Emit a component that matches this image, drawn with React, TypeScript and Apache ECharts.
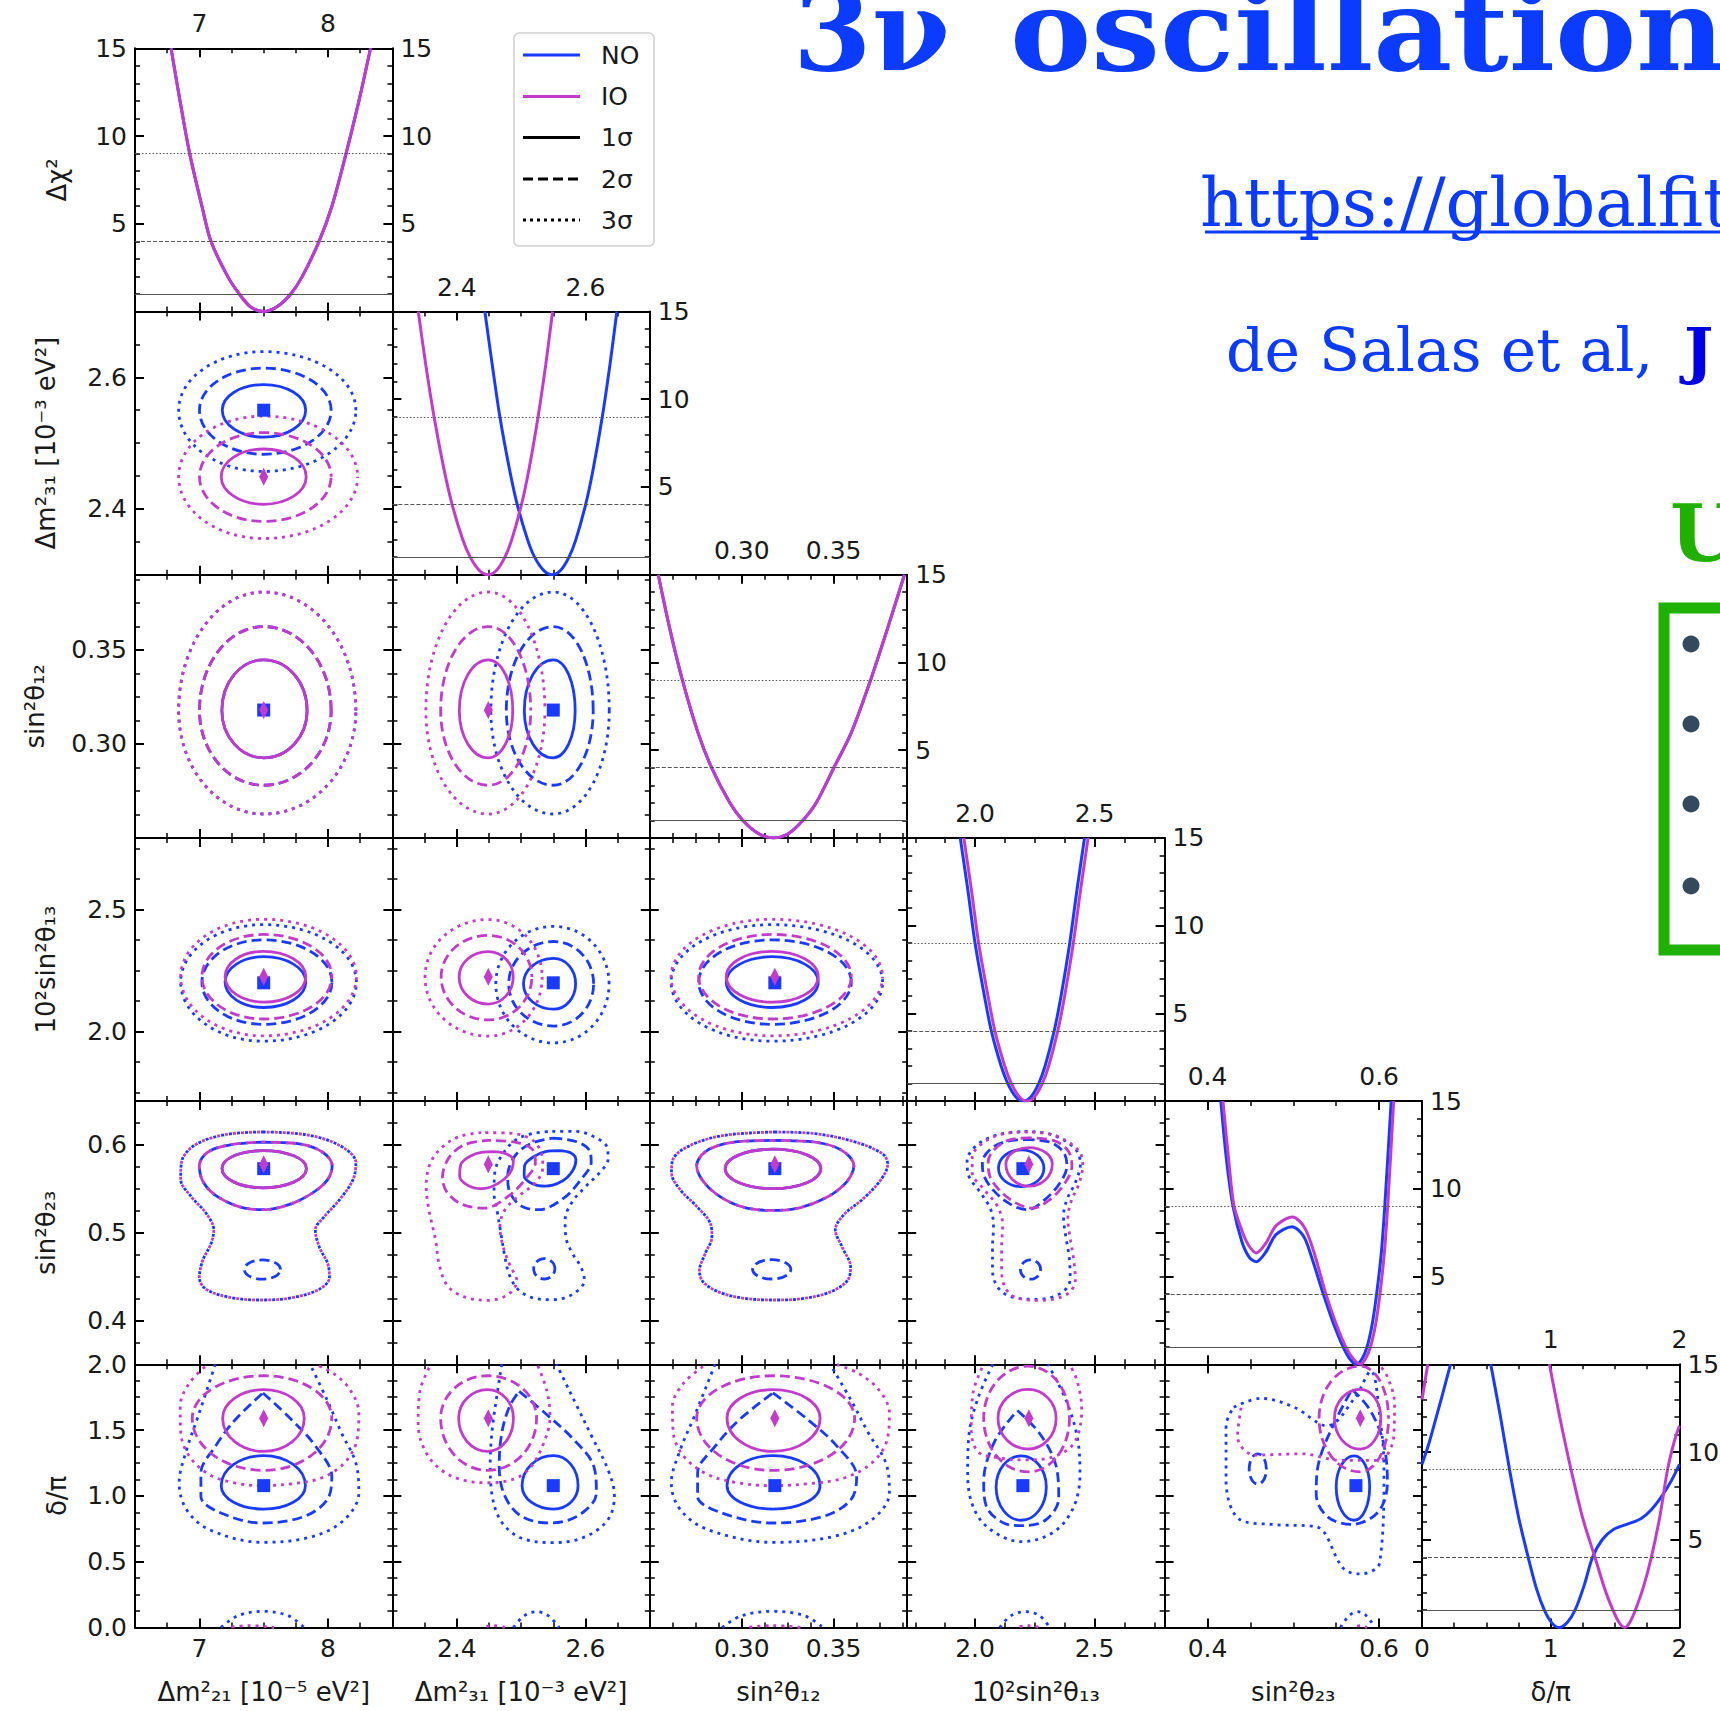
import React, { useEffect, useRef } from 'react';
import * as echarts from 'echarts';

// ---------------- axis ranges & ticks ----------------
const dm21Range = [6.5, 8.5];
const dm31Range = [2.3, 2.7];
const s12Range = [0.25, 0.39];
const s13Range = [1.716, 2.793];
const s23Range = [0.35, 0.65];
const deltaRange = [0, 2];
const chi2Range = [0, 15];

const dm21Ticks = [7, 8];
const dm31Ticks = [2.4, 2.6];
const s12Ticks = [0.3, 0.35];
const s13Ticks = [2.0, 2.5];
const s23TicksX = [0.4, 0.6];
const s23TicksY = [0.4, 0.5, 0.6];
const deltaTicksX = [0, 1, 2];
const deltaTicksTop = [1, 2];
const deltaTicksY = [0, 0.5, 1, 1.5, 2];
const chi2Ticks = [0, 5, 10, 15];
const chi2Labels = [5, 10, 15];

const dm21Minor = 0.25;
const dm31Minor = 0.05;
const s12Minor = 0.0125;
const s13MinorTicks = [1.75, 1.875, 2.0, 2.125, 2.25, 2.375, 2.5, 2.625, 2.75];
const s23MinorX = 0.05;
const s23MinorY = 0.025;
const deltaMinorX = 0.25;
const deltaMinorY = 0.125;
const chi2Minor = 1;

const sigmaLevels = [1, 4, 9];

// best fit points: dm21, dm31, s12, s13, s23, delta
const bestNO = [7.5, 2.55, 0.318, 2.2, 0.573, 1.078];
const bestIO = [7.5, 2.449, 0.318, 2.225, 0.578, 1.59];

// ---------------- 1D profiles [x, dchi2] ----------------
const prof0_NO = [[6.78, 15], [6.85, 12], [6.925, 9], [7.02, 6], [7.09, 4], [7.22, 2], [7.31, 1], [7.4, 0.25], [7.5, 0], [7.6, 0.25], [7.71, 1], [7.8, 2], [7.93, 4], [8.03, 6], [8.14, 9], [8.24, 12], [8.33, 15]];
const prof0_IO = [[6.78, 15], [6.85, 12], [6.925, 9], [7.02, 6], [7.09, 4], [7.22, 2], [7.31, 1], [7.4, 0.25], [7.5, 0], [7.6, 0.25], [7.71, 1], [7.8, 2], [7.93, 4], [8.03, 6], [8.14, 9], [8.24, 12], [8.33, 15]];
const prof1_NO = [[2.4437, 15], [2.455, 12], [2.467, 9], [2.482, 6], [2.494, 4], [2.51, 2], [2.521, 1], [2.535, 0.25], [2.5485, 0], [2.5615, 0.25], [2.5744, 1], [2.5851, 2], [2.6003, 4], [2.6119, 6], [2.6262, 9], [2.6382, 12], [2.6488, 15]];
const prof1_IO = [[2.3402, 15], [2.3517, 12], [2.3647, 9], [2.3802, 6], [2.3928, 4], [2.4093, 2], [2.4209, 1], [2.435, 0.25], [2.449, 0], [2.4619, 0.25], [2.4748, 1], [2.4855, 2], [2.5006, 4], [2.5122, 6], [2.5264, 9], [2.5384, 12], [2.5489, 15]];
const prof2_NO = [[0.2546, 15], [0.2607, 12], [0.2677, 9], [0.2762, 6], [0.2836, 4], [0.2935, 2], [0.3005, 1], [0.309, 0.25], [0.3173, 0], [0.3255, 0.25], [0.3333, 1], [0.3405, 2], [0.3501, 4], [0.3596, 6], [0.3701, 9], [0.3795, 12], [0.3885, 15]];
const prof2_IO = [[0.2546, 15], [0.2607, 12], [0.2677, 9], [0.2762, 6], [0.2836, 4], [0.2935, 2], [0.3005, 1], [0.309, 0.25], [0.3173, 0], [0.3255, 0.25], [0.3333, 1], [0.3405, 2], [0.3501, 4], [0.3596, 6], [0.3701, 9], [0.3795, 12], [0.3885, 15]];
const prof3_NO = [[1.938, 15], [1.97, 12], [2.0, 9], [2.039, 6], [2.068, 4], [2.109, 2], [2.137, 1], [2.17, 0.25], [2.201, 0], [2.234, 0.25], [2.266, 1], [2.293, 2], [2.331, 4], [2.36, 6], [2.396, 9], [2.426, 12], [2.458, 15]];
const prof3_IO = [[1.953, 15], [1.985, 12], [2.015, 9], [2.054, 6], [2.083, 4], [2.124, 2], [2.152, 1], [2.185, 0.25], [2.216, 0], [2.249, 0.25], [2.281, 1], [2.308, 2], [2.346, 4], [2.375, 6], [2.411, 9], [2.441, 12], [2.473, 15]];
const prof4_NO = [[0.4155, 15], [0.4225, 11.5], [0.4298, 9], [0.44, 7.0], [0.4487, 6.1], [0.4568, 5.85], [0.468, 6.4], [0.4798, 7.39], [0.4986, 7.84], [0.512, 7.3], [0.522, 6.0], [0.535, 4.0], [0.547, 2.3], [0.558, 1.0], [0.566, 0.3], [0.5735, 0], [0.58, 0.3], [0.586, 1.0], [0.592, 2.3], [0.5971, 4.0], [0.6025, 6.3], [0.6066, 9.0], [0.6141, 15]];
const prof4_IO = [[0.418, 15], [0.425, 11.5], [0.431, 9], [0.441, 7.5], [0.449, 6.7], [0.457, 6.35], [0.468, 6.9], [0.48, 7.9], [0.499, 8.4], [0.513, 7.8], [0.524, 6.4], [0.538, 4.0], [0.55, 2.3], [0.561, 1.0], [0.57, 0.3], [0.578, 0], [0.584, 0.3], [0.59, 1.0], [0.596, 2.3], [0.601, 4.0], [0.606, 6.3], [0.61, 9.0], [0.617, 15]];
const prof5_NO_a = [[0, 9.3], [0.05, 10.4], [0.1, 11.7], [0.16, 13.3], [0.2215, 15]];
const prof5_NO_b = [[0.534, 15], [0.61, 12], [0.68, 9], [0.75, 6.3], [0.825, 4], [0.89, 2.2], [0.95, 1], [1.01, 0.25], [1.067, 0], [1.13, 0.3], [1.19, 1], [1.26, 2.4], [1.325, 4], [1.4, 5.0], [1.49, 5.6], [1.6, 5.9], [1.7, 6.2], [1.78, 6.7], [1.865, 7.5], [1.94, 8.4], [2.0, 9.3]];
const prof5_IO_a = [[0, 13.0], [0.045, 15]];
const prof5_IO_b = [[0.99, 15], [1.07, 12], [1.158, 9], [1.25, 6.2], [1.344, 4], [1.42, 2.2], [1.483, 1], [1.53, 0.3], [1.574, 0], [1.615, 0.3], [1.658, 1], [1.72, 2.3], [1.782, 4], [1.85, 6.4], [1.908, 9], [1.96, 10.6], [2.0, 11.5]];

// ---------------- 2D contours ----------------
// ellipse-like contours: [cx, cy, halfWidthLeft, halfWidthRight, halfHeightDown, halfHeightUp]
// free-form contours: list of [x, y] points
const p10_NO_1 = [7.5, 2.55, 0.322, 0.326, 0.041, 0.039];
const p10_NO_2 = [7.5, 2.55, 0.499, 0.524, 0.067, 0.064];
const p10_NO_3 = [7.5, 2.55, 0.661, 0.716, 0.093, 0.089];
const p10_IO_1 = [7.5, 2.449, 0.33, 0.33, 0.042, 0.042];
const p10_IO_2 = [7.5, 2.449, 0.499, 0.524, 0.068, 0.067];
const p10_IO_3 = [7.5, 2.449, 0.661, 0.73, 0.094, 0.092];

const p20_NO_1 = [7.5, 0.3178, 0.325, 0.337, 0.0252, 0.0269];
const p20_NO_2 = [7.5, 0.3178, 0.499, 0.524, 0.0398, 0.0446];
const p20_NO_3 = [7.5, 0.3178, 0.661, 0.716, 0.0551, 0.063];
const p20_IO_1 = [7.5, 0.3178, 0.325, 0.337, 0.0252, 0.0269];
const p20_IO_2 = [7.5, 0.3178, 0.499, 0.524, 0.0398, 0.0446];
const p20_IO_3 = [7.5, 0.3178, 0.661, 0.716, 0.0551, 0.063];

const p21_NO_1 = [2.55, 0.3178, 0.045, 0.034, 0.0252, 0.0269];
const p21_NO_2 = [2.55, 0.3178, 0.073, 0.062, 0.0398, 0.0446];
const p21_NO_3 = [2.55, 0.3178, 0.097, 0.087, 0.0551, 0.063];
const p21_IO_1 = [2.449, 0.3178, 0.045, 0.038, 0.0252, 0.0269];
const p21_IO_2 = [2.449, 0.3178, 0.074, 0.066, 0.0398, 0.0446];
const p21_IO_3 = [2.449, 0.3178, 0.097, 0.088, 0.0551, 0.063];

const p30_NO_1 = [7.5, 2.203, 0.3, 0.327, 0.104, 0.104];
const p30_NO_2 = [7.5, 2.203, 0.48, 0.53, 0.173, 0.173];
const p30_NO_3 = [7.5, 2.203, 0.645, 0.72, 0.242, 0.235];
const p30_IO_1 = [7.5, 2.225, 0.3, 0.327, 0.104, 0.104];
const p30_IO_2 = [7.5, 2.225, 0.48, 0.53, 0.173, 0.173];
const p30_IO_3 = [7.5, 2.225, 0.645, 0.72, 0.242, 0.235];

const p31_NO_1 = [2.5507, 2.196, 0.047, 0.034, 0.104, 0.104];
const p31_NO_2 = [2.5507, 2.196, 0.07, 0.062, 0.173, 0.173];
const p31_NO_3 = [2.5507, 2.196, 0.09, 0.086, 0.242, 0.235];
const p31_IO_1 = [2.4487, 2.224, 0.045, 0.039, 0.111, 0.104];
const p31_IO_2 = [2.4487, 2.224, 0.073, 0.068, 0.176, 0.17];
const p31_IO_3 = [2.4487, 2.224, 0.098, 0.084, 0.242, 0.235];

const p32_NO_1 = [0.3166, 2.203, 0.025, 0.025, 0.104, 0.104];
const p32_NO_2 = [0.3166, 2.203, 0.04, 0.043, 0.173, 0.173];
const p32_NO_3 = [0.3166, 2.203, 0.055, 0.06, 0.242, 0.235];
const p32_IO_1 = [0.3166, 2.225, 0.025, 0.025, 0.104, 0.104];
const p32_IO_2 = [0.3166, 2.225, 0.04, 0.043, 0.173, 0.173];
const p32_IO_3 = [0.3166, 2.225, 0.055, 0.06, 0.242, 0.235];

const p40_1 = [7.494, 0.5732, 0.318, 0.338, 0.022, 0.0204];
const p40_2 = [[7.4935, 0.6032], [7.7745, 0.6013], [7.958, 0.5917], [8.032, 0.5763], [7.998, 0.5608], [7.88, 0.5454], [7.696, 0.532], [7.4935, 0.5262], [7.302, 0.53], [7.118, 0.5435], [7.026, 0.5589], [7.0, 0.5763], [7.065, 0.5917], [7.249, 0.6005], [7.4935, 0.6032]];
const p40_NO_2b = [7.49, 0.458, 0.14, 0.14, 0.011, 0.011];
const p40_3 = [[7.4935, 0.6148], [7.827, 0.6117], [8.09, 0.5994], [8.216, 0.5801], [8.195, 0.5608], [8.09, 0.5377], [7.972, 0.5185], [7.901, 0.5031], [7.932, 0.4838], [7.998, 0.4646], [8.011, 0.449], [7.932, 0.4356], [7.722, 0.426], [7.4935, 0.4233], [7.249, 0.426], [7.052, 0.4356], [7.0, 0.449], [7.026, 0.4684], [7.091, 0.4876], [7.112, 0.5031], [7.052, 0.5223], [6.934, 0.5416], [6.855, 0.5608], [6.861, 0.5801], [6.96, 0.5994], [7.197, 0.6117], [7.4935, 0.6148]];

const p41_IO_1 = [[2.4565, 0.5924], [2.4775, 0.5897], [2.488, 0.582], [2.4828, 0.5685], [2.4644, 0.5562], [2.4382, 0.5501], [2.4172, 0.5539], [2.4045, 0.5647], [2.4066, 0.5782], [2.4224, 0.5878], [2.4382, 0.5916], [2.4565, 0.5924]];
const p41_NO_1 = [[2.559, 0.5936], [2.5774, 0.5909], [2.5852, 0.5832], [2.58, 0.5705], [2.5642, 0.5589], [2.5379, 0.5531], [2.5169, 0.5562], [2.5048, 0.5647], [2.5054, 0.5763], [2.5196, 0.5867], [2.5379, 0.5924], [2.559, 0.5936]];
const p41_IO_2 = [[2.4486, 0.6052], [2.4907, 0.6032], [2.5169, 0.5955], [2.5222, 0.5801], [2.5064, 0.5608], [2.4801, 0.5416], [2.4434, 0.5281], [2.4092, 0.532], [2.3856, 0.5454], [2.3777, 0.5628], [2.3883, 0.5859], [2.4119, 0.6002], [2.4486, 0.6052]];
const p41_NO_2 = [[2.5485, 0.6079], [2.5852, 0.604], [2.6063, 0.5936], [2.6089, 0.5801], [2.5931, 0.5608], [2.5668, 0.5397], [2.5275, 0.5262], [2.5012, 0.53], [2.4828, 0.5454], [2.4792, 0.5647], [2.4907, 0.5878], [2.5143, 0.6013], [2.5485, 0.6079]];
const p41_NO_2b = [2.536, 0.4588, 0.0165, 0.0165, 0.0116, 0.0116];
const p41_IO_3 = [[2.4382, 0.614], [2.4801, 0.6136], [2.5143, 0.6071], [2.5301, 0.5936], [2.5337, 0.5743], [2.5222, 0.557], [2.4959, 0.5416], [2.4749, 0.5262], [2.4671, 0.5069], [2.4723, 0.4838], [2.4828, 0.4626], [2.4933, 0.4452], [2.4801, 0.4298], [2.4486, 0.4229], [2.4119, 0.4268], [2.3856, 0.4395], [2.3725, 0.4646], [2.3672, 0.4915], [2.3567, 0.5262], [2.3525, 0.5531], [2.3594, 0.5801], [2.3803, 0.5994], [2.4066, 0.6102], [2.4382, 0.614]];
const p41_NO_3 = [[2.5485, 0.6156], [2.5852, 0.6156], [2.6141, 0.609], [2.6336, 0.5975], [2.6352, 0.584], [2.6246, 0.5705], [2.601, 0.5531], [2.58, 0.5358], [2.5684, 0.5146], [2.5695, 0.4953], [2.58, 0.4761], [2.5931, 0.4607], [2.5984, 0.446], [2.58, 0.4298], [2.5485, 0.4237], [2.5169, 0.426], [2.4949, 0.4356], [2.4812, 0.453], [2.4739, 0.4761], [2.4686, 0.4992], [2.4633, 0.5223], [2.458, 0.5454], [2.4591, 0.5685], [2.4697, 0.5878], [2.4907, 0.6052], [2.5169, 0.6129], [2.5485, 0.6156]];

const p42_1 = [0.317, 0.5732, 0.026, 0.026, 0.023, 0.022];
const p42_2 = [[0.3169, 0.6052], [0.3399, 0.6032], [0.3546, 0.5936], [0.361, 0.5763], [0.3574, 0.5589], [0.3473, 0.5416], [0.3307, 0.5281], [0.316, 0.5254], [0.2995, 0.53], [0.2866, 0.5435], [0.2783, 0.5608], [0.2755, 0.5763], [0.2811, 0.5936], [0.2958, 0.6032], [0.3169, 0.6052]];
const p42_NO_2b = [0.3163, 0.4582, 0.0104, 0.0104, 0.011, 0.011];
const p42_3 = [[0.3178, 0.6148], [0.3399, 0.6129], [0.362, 0.6032], [0.3767, 0.5897], [0.3794, 0.5782], [0.3758, 0.5608], [0.3666, 0.5397], [0.3555, 0.5204], [0.3509, 0.5031], [0.3546, 0.4838], [0.3592, 0.4607], [0.3574, 0.4452], [0.3473, 0.4317], [0.3326, 0.4248], [0.3178, 0.4233], [0.3013, 0.4252], [0.2884, 0.4317], [0.2792, 0.4434], [0.277, 0.4568], [0.2801, 0.4761], [0.2838, 0.4953], [0.2829, 0.5108], [0.2755, 0.53], [0.2664, 0.5493], [0.2618, 0.5685], [0.2627, 0.584], [0.2719, 0.5994], [0.2903, 0.6109], [0.3178, 0.6148]];

const p43_NO_1 = [2.193, 0.5735, 0.095, 0.095, 0.021, 0.021];
const p43_IO_1 = [2.226, 0.578, 0.097, 0.097, 0.025, 0.019];
const p43_NO_2 = [[2.2072, 0.6063], [2.3133, 0.6032], [2.37, 0.5917], [2.3842, 0.5763], [2.3557, 0.557], [2.2921, 0.5377], [2.2214, 0.5262], [2.1506, 0.532], [2.0799, 0.5474], [2.0375, 0.5647], [2.0304, 0.5801], [2.0658, 0.5955], [2.1294, 0.604], [2.2072, 0.6063]];
const p43_IO_2 = [[2.225, 0.608], [2.33, 0.605], [2.39, 0.593], [2.405, 0.576], [2.375, 0.556], [2.31, 0.537], [2.24, 0.528], [2.17, 0.534], [2.1, 0.549], [2.06, 0.566], [2.055, 0.581], [2.085, 0.596], [2.148, 0.606], [2.225, 0.608]];
const p43_NO_2b = [2.232, 0.458, 0.042, 0.042, 0.011, 0.011];
const p43_NO_3 = [[2.2072, 0.6156], [2.3202, 0.6117], [2.4193, 0.5955], [2.4407, 0.5782], [2.4193, 0.557], [2.3842, 0.5377], [2.37, 0.5185], [2.3796, 0.4953], [2.3938, 0.4722], [2.398, 0.4472], [2.3628, 0.4317], [2.2637, 0.4241], [2.1647, 0.426], [2.1009, 0.4356], [2.0729, 0.4568], [2.0729, 0.4838], [2.0771, 0.5069], [2.0658, 0.5262], [2.0233, 0.5454], [1.9737, 0.5647], [1.9666, 0.582], [2.0093, 0.6002], [2.0942, 0.6117], [2.2072, 0.6156]];
const p43_IO_3 = [[2.2214, 0.6148], [2.3344, 0.6109], [2.4336, 0.5936], [2.4503, 0.5763], [2.4336, 0.5551], [2.4022, 0.5358], [2.3884, 0.5165], [2.398, 0.4934], [2.4122, 0.4703], [2.4193, 0.446], [2.3842, 0.4298], [2.2779, 0.4229], [2.1788, 0.4252], [2.1294, 0.4356], [2.111, 0.4568], [2.111, 0.4838], [2.1152, 0.5088], [2.0942, 0.53], [2.0373, 0.5493], [1.988, 0.5685], [1.988, 0.5859], [2.0373, 0.6032], [2.1223, 0.6129], [2.2214, 0.6148]];

const p50_NO_1 = [7.5, 1.078, 0.33, 0.324, 0.178, 0.228];
const p50_IO_1 = [7.5, 1.59, 0.319, 0.315, 0.252, 0.217];
const p50_NO_2 = [[7.494, 1.782], [7.717, 1.579], [7.904, 1.376], [8.029, 1.148], [7.993, 0.971], [7.815, 0.844], [7.494, 0.794], [7.168, 0.87], [7.012, 0.996], [7.012, 1.174], [7.124, 1.376], [7.279, 1.579], [7.494, 1.782]];
const p50_IO_2 = [7.5, 1.59, 0.555, 0.529, 0.396, 0.323];
const p50_NO_3 = [[7.124, 2.0], [6.99, 1.604], [6.901, 1.351], [6.843, 1.098], [6.901, 0.895], [7.079, 0.743], [7.494, 0.647], [7.882, 0.692], [8.127, 0.819], [8.239, 1.022], [8.216, 1.25], [8.105, 1.478], [7.993, 1.728], [7.86, 2.0]];
const p50_NO_3b = [[7.168, 0.0], [7.3, 0.09], [7.494, 0.123], [7.69, 0.09], [7.815, 0.0]];
const p50_IO_3 = [[7.066, 2.0], [6.923, 1.858], [6.851, 1.68], [6.856, 1.478], [6.923, 1.3], [7.079, 1.161], [7.279, 1.098], [7.494, 1.078], [7.725, 1.093], [7.948, 1.136], [8.127, 1.25], [8.225, 1.427], [8.239, 1.63], [8.171, 1.807], [8.038, 1.934], [7.895, 2.0]];
const p50_IO_3b = [[7.22, 0], [7.38, 0.015], [7.58, 0]];

const p51_NO_1 = [2.5505, 1.078, 0.049, 0.038, 0.178, 0.228];
const p51_IO_1 = [2.448, 1.59, 0.045, 0.04, 0.252, 0.217];
const p51_NO_2 = [[2.497, 1.794], [2.537, 1.63], [2.582, 1.427], [2.613, 1.224], [2.617, 1.022], [2.591, 0.857], [2.546, 0.794], [2.501, 0.844], [2.475, 0.996], [2.466, 1.224], [2.47, 1.478], [2.482, 1.68], [2.497, 1.794]];
const p51_IO_2 = [2.448, 1.59, 0.073, 0.076, 0.396, 0.323];
const p51_NO_3 = [[2.47, 2.0], [2.462, 1.75], [2.455, 1.5], [2.452, 1.25], [2.455, 1.0], [2.47, 0.8], [2.5, 0.68], [2.55, 0.645], [2.6, 0.69], [2.635, 0.82], [2.645, 1.0], [2.635, 1.2], [2.61, 1.45], [2.585, 1.7], [2.565, 1.9], [2.555, 2.0]];
const p51_NO_3b = [[2.488, 0], [2.505, 0.09], [2.524, 0.12], [2.542, 0.09], [2.559, 0]];
const p51_IO_3 = [[2.36, 2.0], [2.343, 1.8], [2.34, 1.55], [2.35, 1.35], [2.375, 1.2], [2.41, 1.12], [2.45, 1.1], [2.49, 1.13], [2.515, 1.22], [2.535, 1.4], [2.545, 1.6], [2.54, 1.8], [2.525, 2.0]];
const p51_IO_3b = [[2.44, 0], [2.457, 0.015], [2.475, 0]];

const p52_NO_1 = [0.317, 1.078, 0.025, 0.0256, 0.178, 0.228];
const p52_IO_1 = [0.317, 1.59, 0.025, 0.0256, 0.252, 0.217];
const p52_NO_2 = [[0.317, 1.782], [0.336, 1.579], [0.3519, 1.376], [0.3625, 1.148], [0.3594, 0.971], [0.3443, 0.844], [0.317, 0.794], [0.2893, 0.87], [0.276, 0.996], [0.276, 1.174], [0.2855, 1.376], [0.2987, 1.579], [0.317, 1.782]];
const p52_IO_2 = [0.317, 1.59, 0.0415, 0.0444, 0.396, 0.323];
const p52_NO_3 = [[0.2855, 2.0], [0.2742, 1.604], [0.2666, 1.351], [0.2617, 1.098], [0.2666, 0.895], [0.2817, 0.743], [0.317, 0.647], [0.35, 0.692], [0.3708, 0.819], [0.3803, 1.022], [0.3784, 1.25], [0.3689, 1.478], [0.3594, 1.728], [0.3481, 2.0]];
const p52_NO_3b = [[0.2893, 0], [0.3, 0.09], [0.317, 0.123], [0.334, 0.09], [0.3443, 0]];
const p52_IO_3 = [[0.2806, 2.0], [0.2685, 1.858], [0.2623, 1.68], [0.2628, 1.478], [0.2685, 1.3], [0.2817, 1.161], [0.2987, 1.098], [0.317, 1.078], [0.3366, 1.093], [0.3556, 1.136], [0.3708, 1.25], [0.3791, 1.427], [0.3803, 1.63], [0.3745, 1.807], [0.3632, 1.934], [0.3511, 2.0]];
const p52_IO_3b = [[0.302, 0], [0.317, 0.015], [0.332, 0]];

const p53_NO_1 = [2.193, 1.068, 0.105, 0.105, 0.253, 0.236];
const p53_IO_1 = [2.222, 1.59, 0.126, 0.117, 0.234, 0.219];
const p53_NO_2 = [[2.177, 1.649], [2.271, 1.472], [2.339, 1.227], [2.35, 0.983], [2.294, 0.815], [2.193, 0.774], [2.114, 0.799], [2.047, 0.922], [2.036, 1.105], [2.081, 1.41], [2.177, 1.649]];
const p53_IO_2 = [2.222, 1.59, 0.186, 0.173, 0.408, 0.396];
const p53_NO_3 = [[2.074, 2.0], [2.013, 1.747], [1.975, 1.472], [1.969, 1.166], [1.991, 0.922], [2.058, 0.753], [2.193, 0.652], [2.327, 0.723], [2.41, 0.906], [2.439, 1.166], [2.428, 1.441], [2.383, 1.717], [2.305, 2.0]];
const p53_NO_3b = [[2.103, 0], [2.15, 0.09], [2.21, 0.12], [2.27, 0.09], [2.312, 0]];
const p53_IO_3 = [[2.036, 2.0], [1.991, 1.777], [1.984, 1.502], [2.013, 1.334], [2.103, 1.288], [2.215, 1.273], [2.339, 1.304], [2.417, 1.41], [2.446, 1.655], [2.428, 1.869], [2.395, 2.0]];
const p53_IO_3b = [[2.17, 0], [2.22, 0.015], [2.27, 0]];

const p54_NO_1 = [0.571, 1.07, 0.021, 0.018, 0.255, 0.234];
const p54_IO_1 = [0.578, 1.59, 0.03, 0.024, 0.234, 0.22];
const p54_NO_2 = [[0.5685, 1.809], [0.5892, 1.655], [0.6048, 1.41], [0.6097, 1.105], [0.5985, 0.875], [0.5672, 0.783], [0.5392, 0.845], [0.5267, 1.013], [0.5298, 1.258], [0.5485, 1.564], [0.5685, 1.809]];
const p54_NO_2b = [0.4586, 1.205, 0.01, 0.01, 0.115, 0.115];
const p54_IO_2 = [0.578, 1.59, 0.048, 0.033, 0.408, 0.396];
const p54_NO_3 = [[0.4305, 1.674], [0.4626, 1.741], [0.5009, 1.674], [0.5393, 1.533], [0.5712, 1.741], [0.5904, 1.949], [0.6006, 1.616], [0.6057, 1.199], [0.6006, 0.491], [0.5776, 0.407], [0.5584, 0.449], [0.5265, 0.766], [0.4753, 0.783], [0.4369, 0.824], [0.4216, 1.116], [0.4216, 1.533], [0.4305, 1.674]];
const p54_NO_3b = [[0.555, 0], [0.565, 0.09], [0.575, 0.12], [0.585, 0.09], [0.595, 0]];
const p54_IO_3 = [[0.44, 1.7], [0.435, 1.45], [0.455, 1.31], [0.51, 1.32], [0.555, 1.27], [0.6, 1.27], [0.617, 1.45], [0.618, 1.7], [0.61, 1.9], [0.6, 2.0]];
const p54_IO_3b = [[0.57, 0], [0.578, 0.015], [0.586, 0]];

// panel -> contour lists per sigma level (interleave: IO dash pattern shifted so both orderings show)
const panelContours = [
  { r: 1, c: 0, interleave: true, NO: [[p10_NO_1], [p10_NO_2], [p10_NO_3]], IO: [[p10_IO_1], [p10_IO_2], [p10_IO_3]] },
  { r: 2, c: 0, interleave: false, NO: [[p20_NO_1], [p20_NO_2], [p20_NO_3]], IO: [[p20_IO_1], [p20_IO_2], [p20_IO_3]] },
  { r: 2, c: 1, interleave: true, NO: [[p21_NO_1], [p21_NO_2], [p21_NO_3]], IO: [[p21_IO_1], [p21_IO_2], [p21_IO_3]] },
  { r: 3, c: 0, interleave: true, NO: [[p30_NO_1], [p30_NO_2], [p30_NO_3]], IO: [[p30_IO_1], [p30_IO_2], [p30_IO_3]] },
  { r: 3, c: 1, interleave: true, NO: [[p31_NO_1], [p31_NO_2], [p31_NO_3]], IO: [[p31_IO_1], [p31_IO_2], [p31_IO_3]] },
  { r: 3, c: 2, interleave: true, NO: [[p32_NO_1], [p32_NO_2], [p32_NO_3]], IO: [[p32_IO_1], [p32_IO_2], [p32_IO_3]] },
  { r: 4, c: 0, interleave: true, NO: [[p40_1], [p40_2, p40_NO_2b], [p40_3]], IO: [[p40_1], [p40_2], [p40_3]] },
  { r: 4, c: 1, interleave: true, NO: [[p41_NO_1], [p41_NO_2, p41_NO_2b], [p41_NO_3]], IO: [[p41_IO_1], [p41_IO_2], [p41_IO_3]] },
  { r: 4, c: 2, interleave: true, NO: [[p42_1], [p42_2, p42_NO_2b], [p42_3]], IO: [[p42_1], [p42_2], [p42_3]] },
  { r: 4, c: 3, interleave: true, NO: [[p43_NO_1], [p43_NO_2, p43_NO_2b], [p43_NO_3]], IO: [[p43_IO_1], [p43_IO_2], [p43_IO_3]] },
  { r: 5, c: 0, interleave: true, NO: [[p50_NO_1], [p50_NO_2], [p50_NO_3, p50_NO_3b]], IO: [[p50_IO_1], [p50_IO_2], [p50_IO_3, p50_IO_3b]] },
  { r: 5, c: 1, interleave: true, NO: [[p51_NO_1], [p51_NO_2], [p51_NO_3, p51_NO_3b]], IO: [[p51_IO_1], [p51_IO_2], [p51_IO_3, p51_IO_3b]] },
  { r: 5, c: 2, interleave: true, NO: [[p52_NO_1], [p52_NO_2], [p52_NO_3, p52_NO_3b]], IO: [[p52_IO_1], [p52_IO_2], [p52_IO_3, p52_IO_3b]] },
  { r: 5, c: 3, interleave: true, NO: [[p53_NO_1], [p53_NO_2], [p53_NO_3, p53_NO_3b]], IO: [[p53_IO_1], [p53_IO_2], [p53_IO_3, p53_IO_3b]] },
  { r: 5, c: 4, interleave: true, NO: [[p54_NO_1], [p54_NO_2, p54_NO_2b], [p54_NO_3, p54_NO_3b]], IO: [[p54_IO_1], [p54_IO_2], [p54_IO_3, p54_IO_3b]] },
];

const profiles = [
  { NO: [prof0_NO], IO: [prof0_IO] },
  { NO: [prof1_NO], IO: [prof1_IO] },
  { NO: [prof2_NO], IO: [prof2_IO] },
  { NO: [prof3_NO], IO: [prof3_IO] },
  { NO: [prof4_NO], IO: [prof4_IO] },
  { NO: [prof5_NO_a, prof5_NO_b], IO: [prof5_IO_a, prof5_IO_b] },
];

// ---------------- styling / layout ----------------
const BLUE = '#1a3aff';
const MAG = '#c23ccc';
const LW = 2.8;
const DASH = [10, 5];
const DOT = [3, 5];
const LEFT0 = 135;
const TOP0 = 48.3;
const PW = 257.4;
const PH = 263.2;
const FONT = 'DejaVu Sans';
const TXT = '#1a1a1a';
const TICK_FONT = 25;
const NAME_FONT = 26;

const VARS: any[] = [
  { range: dm21Range, ticksX: dm21Ticks, topX: dm21Ticks, minorX: dm21Minor, decX: 0 },
  { range: dm31Range, ticksX: dm31Ticks, topX: dm31Ticks, minorX: dm31Minor, decX: 1, ticksY: dm31Ticks, minorY: dm31Minor, decY: 1 },
  { range: s12Range, ticksX: s12Ticks, topX: s12Ticks, minorX: s12Minor, decX: 2, ticksY: s12Ticks, minorY: s12Minor, decY: 2 },
  { range: s13Range, ticksX: s13Ticks, topX: s13Ticks, minorX: s13MinorTicks, decX: 1, ticksY: s13Ticks, minorY: s13MinorTicks, decY: 1 },
  { range: s23Range, ticksX: s23TicksX, topX: s23TicksX, minorX: s23MinorX, decX: 1, ticksY: s23TicksY, minorY: s23MinorY, decY: 1 },
  { range: deltaRange, ticksX: deltaTicksX, topX: deltaTicksTop, minorX: deltaMinorX, decX: 0, ticksY: deltaTicksY, minorY: deltaMinorY, decY: 1 },
];
const CHI = { range: chi2Range, ticksY: chi2Ticks, labelsY: chi2Labels, minorY: chi2Minor, decY: 0 };

function majorAxis(g: number, pos: string, range: number[], ticks: number[], labels: number[] | null, dec: number) {
  return {
    type: 'value', gridIndex: g, position: pos, min: range[0], max: range[1],
    axisLine: { show: true, onZero: false, lineStyle: { color: '#000', width: 2 } },
    axisTick: { show: true, inside: true, length: 9, customValues: ticks, lineStyle: { color: '#000', width: 2 } },
    axisLabel: {
      show: !!labels, customValues: labels || ticks, formatter: (v: any) => Number(v).toFixed(dec),
      margin: pos === 'top' ? 12 : 8, fontSize: TICK_FONT, fontFamily: FONT, color: TXT, showMinLabel: true, showMaxLabel: true,
    },
    splitLine: { show: false }, minorTick: { show: false }, minorSplitLine: { show: false },
  };
}
function minorAxis(g: number, pos: string, range: number[], minor: any) {
  const isList = Array.isArray(minor);
  const ax: any = {
    type: 'value', gridIndex: g, position: pos, min: range[0], max: range[1],
    axisLine: { show: false, onZero: false },
    axisTick: { show: true, inside: true, length: 5, lineStyle: { color: '#000', width: 1.5 } },
    axisLabel: { show: false }, splitLine: { show: false },
  };
  if (isList) ax.axisTick.customValues = minor; else ax.interval = minor;
  return ax;
}

function ellipseSeries(xi: number, yi: number, ell: number[], color: string, dash: any, offset: number, z: number) {
  return {
    type: 'custom', coordinateSystem: 'cartesian2d', xAxisIndex: xi, yAxisIndex: yi, silent: true, z,
    data: [ell], encode: { x: 0, y: 1 },
    renderItem: (params: any, api: any) => {
      const cx = api.value(0), cy = api.value(1);
      const C = api.coord([cx, cy]);
      const xL = api.coord([cx - api.value(2), cy])[0];
      const xR = api.coord([cx + api.value(3), cy])[0];
      const yB = api.coord([cx, cy - api.value(4)])[1];
      const yT = api.coord([cx, cy + api.value(5)])[1];
      const k = 0.5523;
      const x0 = C[0], y0 = C[1];
      const d = [
        `M${xR} ${y0}`,
        `C${xR} ${y0 - k * (y0 - yT)} ${x0 + k * (xR - x0)} ${yT} ${x0} ${yT}`,
        `C${x0 - k * (x0 - xL)} ${yT} ${xL} ${y0 - k * (y0 - yT)} ${xL} ${y0}`,
        `C${xL} ${y0 + k * (yB - y0)} ${x0 - k * (x0 - xL)} ${yB} ${x0} ${yB}`,
        `C${x0 + k * (xR - x0)} ${yB} ${xR} ${y0 + k * (yB - y0)} ${xR} ${y0}`,
        'Z',
      ].join(' ');
      return {
        type: 'path', shape: { pathData: d },
        style: { fill: 'none', stroke: color, lineWidth: LW, lineDash: dash, lineDashOffset: offset },
      };
    },
  };
}
function polySeries(xi: number, yi: number, pts: number[][], color: string, dash: any, offset: number, z: number, width: number) {
  return {
    type: 'line', xAxisIndex: xi, yAxisIndex: yi, data: pts, smooth: 0.35, symbol: 'none', showSymbol: false,
    silent: true, clip: true, z,
    lineStyle: { color, width, type: dash || 'solid', dashOffset: offset },
  };
}

function buildOption() {
  const grids: any[] = [];
  const xAxes: any[] = [];
  const yAxes: any[] = [];
  const series: any[] = [];
  const axisIdx: Record<string, number[]> = {};

  for (let r = 0; r < 6; r++) {
    for (let c = 0; c <= r; c++) {
      const g = grids.length;
      grids.push({ left: LEFT0 + c * PW, top: TOP0 + r * PH, width: PW, height: PH, containLabel: false, outerBoundsMode: 'none' });
      const xv = VARS[c];
      const xi = xAxes.length;
      xAxes.push(majorAxis(g, 'bottom', xv.range, xv.ticksX, r === 5 ? xv.ticksX : null, xv.decX));
      xAxes.push(minorAxis(g, 'bottom', xv.range, xv.minorX));
      xAxes.push(majorAxis(g, 'top', xv.range, xv.ticksX, r === c ? xv.topX : null, xv.decX));
      xAxes.push(minorAxis(g, 'top', xv.range, xv.minorX));
      const yv = r === c ? CHI : VARS[r];
      const yi = yAxes.length;
      const yLabels = r === c ? (yv as any).labelsY : yv.ticksY;
      yAxes.push(majorAxis(g, 'left', yv.range, yv.ticksY, c === 0 ? yLabels : null, yv.decY));
      yAxes.push(minorAxis(g, 'left', yv.range, yv.minorY));
      yAxes.push(majorAxis(g, 'right', yv.range, yv.ticksY, r === c ? yLabels : null, yv.decY));
      yAxes.push(minorAxis(g, 'right', yv.range, yv.minorY));
      axisIdx[r + ',' + c] = [xi, yi];
    }
  }

  // diagonal profiles
  profiles.forEach((p, i) => {
    const [xi, yi] = axisIdx[i + ',' + i];
    p.NO.forEach((seg, j) => {
      const s: any = polySeries(xi, yi, seg, BLUE, null, 0, 3, 3);
      s.smooth = 0.3;
      if (j === 0) {
        s.markLine = {
          silent: true, symbol: 'none', label: { show: false }, animation: false,
          lineStyle: { color: '#555', width: 1 },
          data: sigmaLevels.map((v, k) => ({ yAxis: v, lineStyle: { color: '#555', width: 1, type: k === 0 ? 'solid' : k === 1 ? [4, 2] : [1.5, 2] } })),
        };
      }
      series.push(s);
    });
    p.IO.forEach((seg) => {
      const s: any = polySeries(xi, yi, seg, MAG, null, 0, 4, 3);
      s.smooth = 0.3;
      series.push(s);
    });
  });

  // 2D contours
  const styles = [null, DASH, DOT];
  const offsIO = [0, 7, 4];
  panelContours.forEach((pc) => {
    const [xi, yi] = axisIdx[pc.r + ',' + pc.c];
    (['NO', 'IO'] as const).forEach((ord) => {
      const color = ord === 'NO' ? BLUE : MAG;
      const z = ord === 'NO' ? 3 : 4;
      (pc as any)[ord].forEach((shapes: any[], lvl: number) => {
        shapes.forEach((shape: any) => {
          const off = ord === 'IO' && pc.interleave ? offsIO[lvl] : 0;
          if (typeof shape[0] === 'number') series.push(ellipseSeries(xi, yi, shape, color, styles[lvl], off, z));
          else series.push(polySeries(xi, yi, shape, color, styles[lvl], off, z, LW));
        });
      });
    });
    series.push({ type: 'scatter', xAxisIndex: xi, yAxisIndex: yi, silent: true, z: 5, data: [[bestNO[pc.c], bestNO[pc.r]]], symbol: 'rect', symbolSize: 13, itemStyle: { color: BLUE, opacity: 1 } });
    series.push({ type: 'scatter', xAxisIndex: xi, yAxisIndex: yi, silent: true, z: 6, data: [[bestIO[pc.c], bestIO[pc.r]]], symbol: 'diamond', symbolSize: [9, 18], itemStyle: { color: MAG, opacity: 1 } });
  });

  // ---------------- graphics: axis names, legend, slide text ----------------
  const nameStyle = (text: string) => ({ text, fontSize: NAME_FONT, fontFamily: FONT, fill: TXT, textAlign: 'center', textVerticalAlign: 'middle' });
  const bottomNames = ['Δm²₂₁ [10⁻⁵ eV²]', 'Δm²₃₁ [10⁻³ eV²]', 'sin²θ₁₂', '10²sin²θ₁₃', 'sin²θ₂₃', 'δ/π'];
  const leftNames = ['Δχ²', 'Δm²₃₁ [10⁻³ eV²]', 'sin²θ₁₂', '10²sin²θ₁₃', 'sin²θ₂₃', 'δ/π'];
  const leftX = [57, 46, 35, 46, 46, 57];
  const elements: any[] = [];
  bottomNames.forEach((t, i) => elements.push({ type: 'text', x: LEFT0 + (i + 0.5) * PW, y: 1692, style: nameStyle(t) }));
  leftNames.forEach((t, i) => elements.push({ type: 'text', x: leftX[i], y: TOP0 + (i + 0.5) * PH, rotation: Math.PI / 2, style: nameStyle(t) }));

  // legend
  elements.push({ type: 'rect', shape: { x: 514, y: 33, width: 140, height: 213, r: 5 }, style: { fill: 'rgba(255,255,255,0.9)', stroke: '#cfcfcf', lineWidth: 1.5 }, z: 50 });
  const legendRows = [
    { t: 'NO', color: BLUE, dash: null, y: 55 },
    { t: 'IO', color: MAG, dash: null, y: 96.5 },
    { t: '1σ', color: '#000', dash: null, y: 137.5 },
    { t: '2σ', color: '#000', dash: [10, 5], y: 179 },
    { t: '3σ', color: '#000', dash: [3, 4], y: 220 },
  ];
  legendRows.forEach((row) => {
    elements.push({ type: 'line', shape: { x1: 523, y1: row.y, x2: 580, y2: row.y }, style: { stroke: row.color, lineWidth: 3, lineDash: row.dash }, z: 51 });
    elements.push({ type: 'text', x: 601, y: row.y, style: { text: row.t, fontSize: 25, fontFamily: FONT, fill: TXT, textAlign: 'left', textVerticalAlign: 'middle' }, z: 51 });
  });

  // slide text
  const SLIDE_BLUE = '#0a3bff';
  elements.push({ type: 'text', x: 793, y: 30, style: { text: '3ν', fontSize: 113, fontWeight: 'bold', fontFamily: 'DejaVu Serif', fill: SLIDE_BLUE, textAlign: 'left', textVerticalAlign: 'middle' } });
  elements.push({ type: 'text', x: 1010, y: 30, scaleX: 1.07, style: { text: 'oscillations', fontSize: 114, fontWeight: 'bold', fontFamily: 'DejaVu Serif', fill: SLIDE_BLUE, textAlign: 'left', textVerticalAlign: 'middle' } });
  elements.push({ type: 'text', x: 1200, y: 202, style: { text: 'https://globalfit', fontSize: 68, fontFamily: 'DejaVu Serif', fill: SLIDE_BLUE, textAlign: 'left', textVerticalAlign: 'middle' } });
  elements.push({ type: 'line', shape: { x1: 1205, y1: 232, x2: 1720, y2: 232 }, style: { stroke: SLIDE_BLUE, lineWidth: 3 } });
  elements.push({ type: 'text', x: 1226, y: 350, style: { text: 'de Salas et al,', fontSize: 60, fontFamily: 'DejaVu Serif', fill: SLIDE_BLUE, textAlign: 'left', textVerticalAlign: 'middle' } });
  elements.push({ type: 'text', x: 1684, y: 350, style: { text: 'J', fontSize: 62, fontWeight: 'bold', fontFamily: 'DejaVu Serif', fill: '#0000e6', textAlign: 'left', textVerticalAlign: 'middle' } });
  elements.push({ type: 'text', x: 1670, y: 533, style: { text: 'U', fontSize: 78, fontWeight: 'bold', fontFamily: 'DejaVu Serif', fill: '#22b000', textAlign: 'left', textVerticalAlign: 'middle' } });
  elements.push({ type: 'rect', shape: { x: 1664, y: 608, width: 200, height: 342 }, style: { fill: 'none', stroke: '#1fb000', lineWidth: 11 } });
  [644, 724, 804, 886].forEach((y) => elements.push({ type: 'circle', shape: { cx: 1691, cy: y, r: 8.5 }, style: { fill: '#34495e' } }));

  return {
    animation: false,
    backgroundColor: '#ffffff',
    grid: grids,
    xAxis: xAxes,
    yAxis: yAxes,
    series,
    graphic: { elements },
  };
}

export default function App() {
  const ref = useRef<HTMLDivElement>(null);
  useEffect(() => {
    document.body.style.margin = '0';
    const chart = echarts.init(ref.current as HTMLDivElement, null, { renderer: 'svg', width: 1720, height: 1711 });
    chart.setOption(buildOption() as any);
    return () => chart.dispose();
  }, []);
  return <div ref={ref} style={{ width: 1720, height: 1711, background: '#fff', overflow: 'hidden' }} />;
}
